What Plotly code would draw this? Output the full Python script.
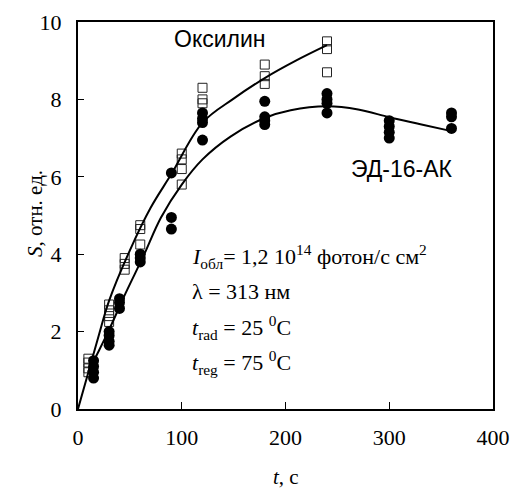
import plotly.graph_objects as go

# ---- data ----
oks_t = [10, 10, 10, 10, 30, 30, 30, 30, 45, 45, 45, 60, 60, 60,
         100, 100, 100, 100, 120, 120, 120, 180, 180, 180, 240, 240, 240]
oks_s = [1.3, 1.2, 1.05, 0.95, 2.7, 2.55, 2.4, 2.25, 3.9, 3.75, 3.6, 4.75, 4.65, 4.25,
         6.6, 6.45, 6.2, 5.8, 8.3, 8.0, 7.9, 8.9, 8.6, 8.4, 9.5, 9.3, 8.7]

ed_t = [15, 15, 15, 15, 30, 30, 30, 30, 40, 40, 40, 60, 60, 60,
        90, 90, 90, 120, 120, 120, 120, 180, 180, 180, 180,
        240, 240, 240, 240, 300, 300, 300, 300, 360, 360, 360]
ed_s = [1.25, 1.1, 0.95, 0.8, 2.0, 1.9, 1.75, 1.65, 2.85, 2.75, 2.6, 4.0, 3.9, 3.8,
        6.1, 4.95, 4.65, 7.65, 7.5, 7.4, 6.95, 7.95, 7.55, 7.45, 7.35,
        8.15, 8.0, 7.9, 7.65, 7.45, 7.3, 7.15, 7.0, 7.65, 7.55, 7.25]

# trend curves as drawn in the reference
oks_fit_t = [0, 10, 20, 30, 50, 70, 90, 120, 150, 180, 210, 240]
oks_fit_s = [0, 0.95, 1.9, 2.8, 4.1, 5.2, 6.07, 7.4, 8.02, 8.55, 9.0, 9.4]

ed_fit_t = [9.6, 20, 30, 46, 63, 80, 100, 120, 147, 180, 205, 240, 270, 300, 330, 360]
ed_fit_s = [0.96, 1.5, 2.05, 3.0, 3.95, 4.95, 5.8, 6.45, 7.04, 7.52, 7.72, 7.82,
            7.74, 7.54, 7.36, 7.18]

x_ticks = [0, 100, 200, 300, 400]
y_ticks = [0, 2, 4, 6, 8, 10]

label_oks = "Оксилин"
label_ed = "ЭД-16-АК"
x_title = "<i>t</i>, с"
y_title = "<i>S</i>, отн. ед."
info_lines = [
    "<i>I</i><sub>обл</sub>= 1,2 10<sup>14</sup> фотон/с см<sup>2</sup>",
    "λ = 313 нм",
    "<i>t</i><sub>rad</sub> = 25 <sup>0</sup>C",
    "<i>t</i><sub>reg</sub> = 75 <sup>0</sup>C",
]
info_y = [3.95, 3.03, 2.1, 1.2]

SERIF = "Liberation Serif, Times New Roman, serif"
SANS = "Liberation Sans, Arial, sans-serif"

fig = go.Figure()
fig.add_trace(go.Scatter(x=oks_t, y=oks_s, mode="markers",
                         marker=dict(symbol="square-open", size=9, color="#222",
                                     line=dict(width=1, color="#222")),
                         showlegend=False, cliponaxis=False))
fig.add_trace(go.Scatter(x=ed_t, y=ed_s, mode="markers",
                         marker=dict(symbol="circle", size=11, color="black"),
                         showlegend=False))
fig.add_trace(go.Scatter(x=oks_fit_t, y=oks_fit_s, mode="lines",
                         line=dict(color="black", width=2, shape="spline"),
                         showlegend=False))
fig.add_trace(go.Scatter(x=ed_fit_t, y=ed_fit_s, mode="lines",
                         line=dict(color="black", width=2, shape="spline"),
                         showlegend=False))

fig.add_annotation(x=137, y=9.55, text=label_oks, showarrow=False,
                   font=dict(family=SANS, size=23, color="black"))
fig.add_annotation(x=312, y=6.2, text=label_ed, showarrow=False,
                   font=dict(family=SANS, size=23, color="black"))

for txt, yy in zip(info_lines, info_y):
    fig.add_annotation(x=108, y=yy, text=txt, showarrow=False, xanchor="left",
                       yanchor="middle",
                       font=dict(family=SERIF, size=22, color="black"))

# axis titles
fig.add_annotation(xref="paper", yref="paper", x=0.5, y=-0.176, text=x_title,
                   showarrow=False, xanchor="center", yanchor="middle",
                   font=dict(family=SERIF, size=21, color="black"))
fig.add_annotation(xref="paper", yref="paper", x=-0.104, y=0.506, text=y_title,
                   showarrow=False, xanchor="center", yanchor="middle", textangle=-90,
                   font=dict(family=SERIF, size=21, color="black"))

fig.update_layout(
    width=512, height=488,
    margin=dict(l=78, r=19, t=22, b=79),
    paper_bgcolor="white", plot_bgcolor="white",
    font=dict(family=SERIF, size=21, color="black"),
)
fig.update_xaxes(range=[0, 400], tickvals=x_ticks, ticks="inside", ticklen=7,
                 tickwidth=1, tickcolor="black", showline=True, linecolor="black",
                 linewidth=2, mirror=True, showgrid=False, zeroline=False,
                 automargin=False,
                 tickfont=dict(family=SERIF, size=22), ticklabelstandoff=8)
fig.update_yaxes(range=[0, 10], tickvals=y_ticks, ticks="inside", ticklen=6,
                 tickwidth=1, tickcolor="black", showline=True, linecolor="black",
                 linewidth=2, mirror=True, showgrid=False, zeroline=False,
                 automargin=False,
                 tickfont=dict(family=SERIF, size=22), ticklabelstandoff=10)

fig.write_html("out.html", config={"displayModeBar": False},
               post_script="document.body.style.margin='0';")
